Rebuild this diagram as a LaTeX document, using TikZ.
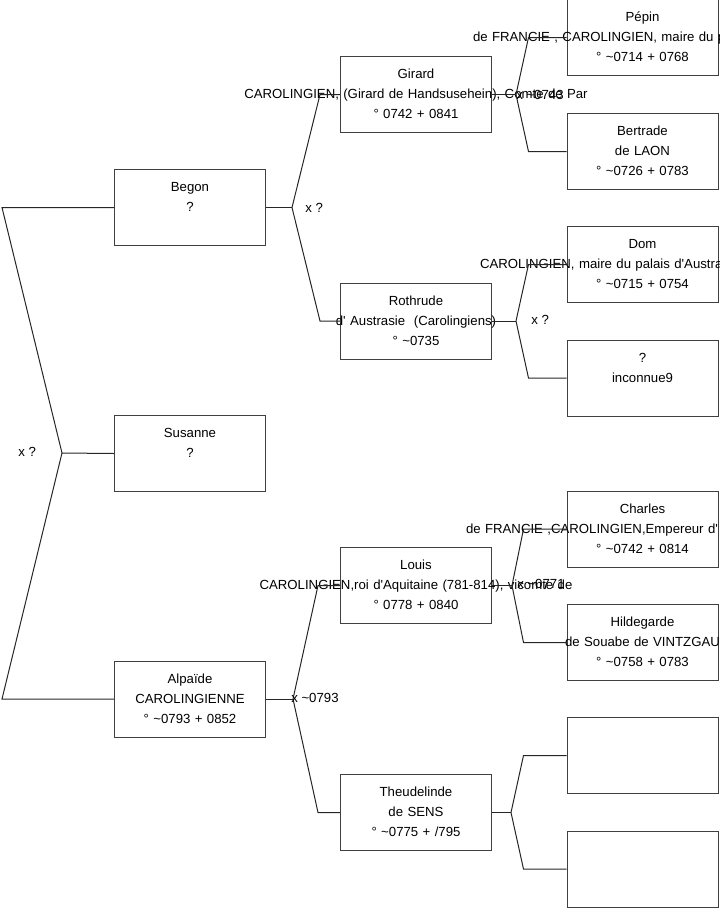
\documentclass[tikz,border=0pt]{standalone}
\usepackage{fontspec}
\setmainfont{Liberation Sans}
\usetikzlibrary{calc,positioning}
\newcommand{\pline}[1]{\makebox[113.25pt]{\strut #1}}
\newcommand{\cutline}[2]{\makebox[113.25pt][l]{\strut\hspace{-#1}#2}}
\newcommand{\apo}{\textquotesingle}

\begin{document}
\begin{tikzpicture}[
    x=0.75pt, y=-0.75pt,
    person/.style={rectangle,draw=black!75,line width=0.75pt,inner sep=0pt,
        minimum width=113.25pt,minimum height=57pt,text width=113.25pt,
        align=center,font=\fontsize{9.9}{15}\selectfont},
    link/.style={draw=black!85,line width=0.75pt},
    union/.style={anchor=west,inner sep=0pt,font=\fontsize{9.9}{12}\selectfont}
]
    \useasboundingbox (0,0) rectangle (719,908);

    % first generation
    \node[person] (begon)   at (190,207.5) {\pline{Begon}\\\pline{?}\\\pline{}};
    \node[person] (susanne) at (190,453.5) {\pline{Susanne}\\\pline{?}\\\pline{}};
    \node[person] (alpaide) at (190,699)   {\pline{Alpaïde}\\\pline{CAROLINGIENNE}\\\pline{° \textasciitilde0793 + 0852}};

    % second generation
    \node[person] (girard)      at (416,94.5)  {\pline{Girard}\\\pline{CAROLINGIEN, (Girard de Handsusehein), Comte de Par}\\\pline{° 0742 + 0841}};
    \node[person] (rothrude)    at (416,321)   {\pline{Rothrude}\\\pline{d\apo{} Austrasie\ \ (Carolingiens)}\\\pline{° \textasciitilde0735}};
    \node[person] (louis)       at (416,585.5) {\pline{Louis}\\\pline{CAROLINGIEN,roi d\apo Aquitaine (781-814), vicomte de}\\\pline{° 0778 + 0840}};
    \node[person] (theudelinde) at (416,812.5) {\pline{Theudelinde}\\\pline{de SENS}\\\pline{° \textasciitilde0775 + /795}};

    % third generation
    \node[person] (pepin)      at (642.5,37.5)  {\pline{Pépin}\\\cutline{70.5pt}{de FRANCIE , CAROLINGIEN, maire du p}\\\pline{° \textasciitilde0714 + 0768}};
    \node[person] (bertrade)   at (642.5,151.5) {\pline{Bertrade}\\\pline{de LAON}\\\pline{° \textasciitilde0726 + 0783}};
    \node[person] (dom)        at (642.5,264.5) {\pline{Dom}\\\cutline{65.25pt}{CAROLINGIEN, maire du palais d\apo Austra}\\\pline{° \textasciitilde0715 + 0754}};
    \node[person] (inconnue)   at (642.5,378)   {\pline{?}\\\pline{inconnue9}\\\pline{}};
    \node[person] (charles)    at (642.5,529)   {\pline{Charles}\\\cutline{75.75pt}{de FRANCIE ,CAROLINGIEN,Empereur d\apo}\\\pline{° \textasciitilde0742 + 0814}};
    \node[person] (hildegarde) at (642.5,642.5) {\pline{Hildegarde}\\\pline{de Souabe de VINTZGAU}\\\pline{° \textasciitilde0758 + 0783}};
    \node[person] (vide1)      at (642.5,755.5) {};
    \node[person] (vide2)      at (642.5,869)   {};

    % forks
    \coordinate (froot)  at (62,453);
    \coordinate (fbegon) at ($(begon.east)+(26,0)$);
    \coordinate (falp)   at ($(alpaide.east)+(27,0)$);
    \coordinate (fgir)   at ($(girard.east)+(24,0)$);
    \coordinate (froth)  at ($(rothrude.east)+(24,0)$);
    \coordinate (flouis) at ($(louis.east)+(20,0)$);
    \coordinate (ftheu)  at ($(theudelinde.east)+(19,0)$);

    \draw[link] (begon.west) -- ++(-112,0) -- (froot) -- ($(alpaide.west)+(-112,0)$) -- (alpaide.west);
    \draw[link] (froot) -- (susanne.west);

    \draw[link] (begon.east) -- (fbegon);
    \draw[link] (fbegon) -- ($(girard.west)+(-20,0)$) -- (girard.west);
    \draw[link] (fbegon) -- ($(rothrude.west)+(-20,0)$) -- (rothrude.west);

    \draw[link] (alpaide.east) -- (falp);
    \draw[link] (falp) -- ($(louis.west)+(-22,0)$) -- (louis.west);
    \draw[link] (falp) -- ($(theudelinde.west)+(-22,0)$) -- (theudelinde.west);

    \draw[link] (girard.east) -- (fgir);
    \draw[link] (fgir) -- ($(pepin.west)+(-38,0)$) -- (pepin.west);
    \draw[link] (fgir) -- ($(bertrade.west)+(-38,0)$) -- (bertrade.west);

    \draw[link] (rothrude.east) -- (froth);
    \draw[link] (froth) -- ($(dom.west)+(-38,0)$) -- (dom.west);
    \draw[link] (froth) -- ($(inconnue.west)+(-38,0)$) -- (inconnue.west);

    \draw[link] (louis.east) -- (flouis);
    \draw[link] (flouis) -- ($(charles.west)+(-43,0)$) -- (charles.west);
    \draw[link] (flouis) -- ($(hildegarde.west)+(-43,0)$) -- (hildegarde.west);

    \draw[link] (theudelinde.east) -- (ftheu);
    \draw[link] (ftheu) -- ($(vide1.west)+(-43,0)$) -- (vide1.west);
    \draw[link] (ftheu) -- ($(vide2.west)+(-43,0)$) -- (vide2.west);

    % unions
    \node[union] (xroot)  at ($(froot)+(-44,-1)$)  {x ?};
    \node[union] (xbegon) at ($(fbegon)+(13,0)$)   {x ?};
    \node[union] (xalp)   at ($(falp)+(-2,-1)$)    {x \textasciitilde0793};
    \node[union] (xgir)   at ($(fgir)+(0,0)$)      {x \textasciitilde0743};
    \node[union] (xroth)  at ($(froth)+(15,-1)$)   {x ?};
    \node[union] (xlouis) at ($(flouis)+(5,-2)$)   {x \textasciitilde0771};
\end{tikzpicture}
\end{document}
